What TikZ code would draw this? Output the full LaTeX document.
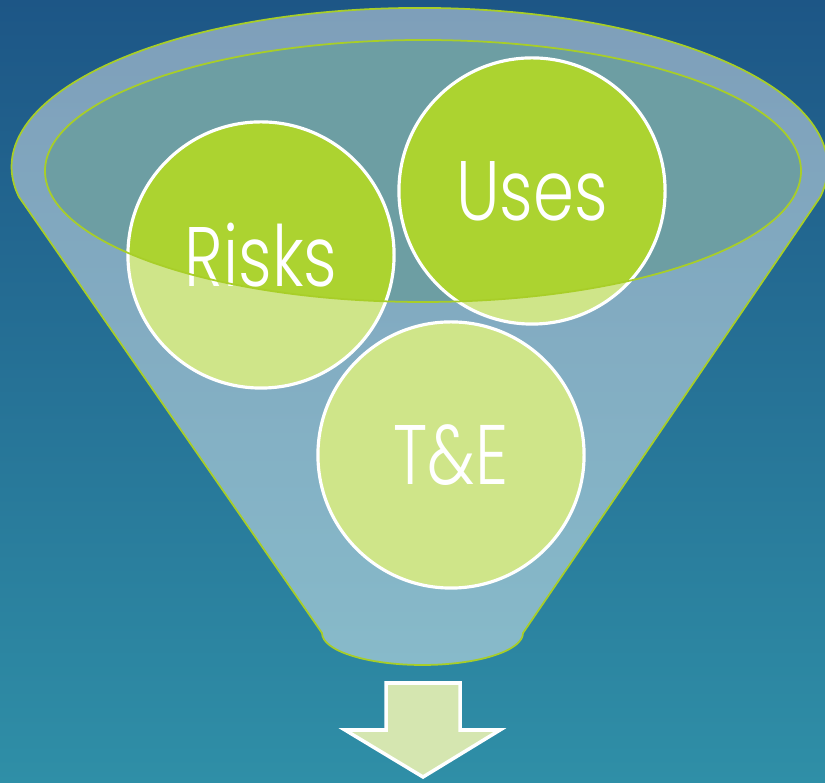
\documentclass[tikz,border=0pt]{standalone}
\usepackage{fontspec}
\setmainfont{Poppins}[UprightFont=* Light,FakeStretch=0.78]
\definecolor{bgtop}{RGB}{29,86,134}
\definecolor{bgbot}{RGB}{47,143,167}
\definecolor{rimgreen}{RGB}{168,206,40}
\definecolor{ballgreen}{RGB}{172,211,48}
\definecolor{mouth}{RGB}{109,158,163}
\definecolor{arrowgreen}{RGB}{213,230,176}
\tikzset{ball/.style={circle,draw=white,line width=0.9pt,fill=ballgreen,minimum size=2.66cm,inner sep=0pt,text=white,font=\fontsize{24}{24}\selectfont}}
\begin{document}
\begin{tikzpicture}[x=0.01cm,y=0.01cm]
\useasboundingbox (0,0) rectangle (825,783);
\shade[top color=bgtop,bottom color=bgbot] (0,0) rectangle (825,783);
% mouth of the funnel
\fill[mouth] (423,612) ellipse[x radius=378,y radius=131];
\node[ball] (risks) at (261,528) {Risks};
\node[ball] (uses) at (532,592) {Uses};
\node[ball] (te) at (451,328) {T\&E};
% funnel body, mouth left open
\fill[white,opacity=0.43,even odd rule] (19,586) arc[start angle=190.9,end angle=-10.9,x radius=408,y radius=159] -- (523,150) arc[start angle=0,end angle=-180,x radius=100.5,y radius=32] -- cycle (423,612) ellipse[x radius=378,y radius=131];
\draw[rimgreen,line width=0.5pt] (19,586) arc[start angle=190.9,end angle=-10.9,x radius=408,y radius=159] -- (523,150) arc[start angle=0,end angle=-180,x radius=100.5,y radius=32] -- cycle;
\draw[rimgreen,line width=0.5pt] (423,612) ellipse[x radius=378,y radius=131];
% arrow out of the funnel
\filldraw[fill=arrowgreen,draw=white,line width=1pt] (386,100) -- (460,100) -- (460,53) -- (500,53) -- (423,6) -- (345,53) -- (386,53) -- cycle;
\end{tikzpicture}
\end{document}
